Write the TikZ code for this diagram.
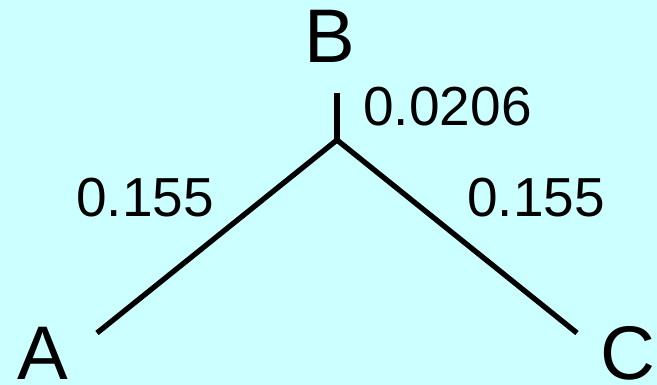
\documentclass[tikz,border=0pt]{standalone}
\usepackage{fontspec}
\setmainfont{Liberation Sans}
\definecolor{bgcyan}{HTML}{CCFFFF}
\begin{document}
\begin{tikzpicture}[x=1pt,y=1pt,
  branch/.style={line width=5.3pt, black, line cap=butt},
  leaflabel/.style={inner sep=0pt, font=\fontsize{76}{80}\selectfont},
  lenlabel/.style={inner sep=0pt, font=\fontsize{55}{60}\selectfont}]
\fill[bgcyan] (0,0) rectangle (657,385);
\useasboundingbox (0,0) rectangle (657,385);
\coordinate (J) at (337,245);
\coordinate (Btop) at (337,292);
\coordinate (Aend) at (97,52);
\coordinate (Cend) at (577,52);
\draw[branch] (J) -- (Btop);
\draw[branch] (J) -- (Aend);
\draw[branch] (J) -- (Cend);
\node[leaflabel] (B) at (329.5,349) {B};
\node[leaflabel] (A) at (43,31.5) {A};
\node[leaflabel] (C) at (628,31.5) {C};
\node[lenlabel] (lb) at (447.5,278) {0.0206};
\node[lenlabel] (la) at (145,187) {0.155};
\node[lenlabel] (lc) at (536,187) {0.155};
\end{tikzpicture}
\end{document}
